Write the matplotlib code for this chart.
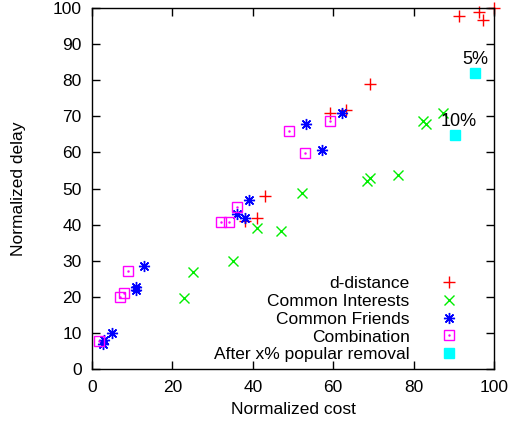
import matplotlib
matplotlib.use("Agg")
import matplotlib.pyplot as plt
from matplotlib.legend_handler import HandlerTuple

plt.rcParams["font.family"] = ["Liberation Sans", "DejaVu Sans"]
plt.rcParams["font.size"] = 12.5

# d-distance
dd_cost = [38.1, 41.0, 43.1, 59.1, 63.2, 69.2, 91.2, 96.3, 97.3, 100.0]
dd_delay = [41.0, 41.8, 47.9, 70.8, 71.7, 78.9, 97.8, 98.9, 96.7, 100.0]

# Common Interests
ci_cost = [22.9, 25.0, 35.0, 41.1, 47.1, 52.2, 68.3, 69.2, 76.2, 82.3, 83.2, 87.2]
ci_delay = [19.8, 26.8, 29.8, 39.1, 38.3, 48.8, 52.2, 52.8, 53.8, 68.8, 68.0, 70.8]

# Common Friends
cf_cost = [2.7, 2.9, 4.9, 10.9, 10.9, 13.0, 36.0, 38.1, 39.1, 53.2, 57.1, 62.1]
cf_delay = [7.0, 8.0, 9.9, 22.8, 21.9, 28.4, 42.9, 41.8, 46.8, 68.0, 60.8, 70.8]

# Combination
cb_cost = [1.8, 7.0, 8.0, 9.0, 32.1, 34.1, 36.1, 49.1, 53.1, 59.2]
cb_delay = [7.8, 20.0, 21.0, 27.2, 40.8, 40.8, 44.8, 66.0, 59.7, 68.8]

# After x% popular removal
pr_cost = [95.3, 90.3]
pr_delay = [81.9, 64.8]
pr_labels = ["5%", "10%"]
pr_label_pos = [(95.3, 85.8), (91.3, 68.6)]

fig = plt.figure(figsize=(5.24, 4.26), dpi=100)
ax = fig.add_axes([0.1756, 0.1338, 0.7671, 0.8474])

h1, = ax.plot(dd_cost, dd_delay, ls="none", marker="+", ms=8, mew=1.0,
              color="#ff0000", clip_on=False)
h2, = ax.plot(ci_cost, ci_delay, ls="none", marker="x", ms=7, mew=1.0,
              color="#00ee00", clip_on=False)
h3, = ax.plot(cf_cost, cf_delay, ls="none", marker=(8, 2, 0), ms=8, mew=1.0,
              color="#0000ff", clip_on=False)
h4a, = ax.plot(cb_cost, cb_delay, ls="none", marker="s", ms=7, mew=1.0,
               mfc="none", color="#ff00ff", clip_on=False)
h4b, = ax.plot(cb_cost, cb_delay, ls="none", marker=".", ms=1.5,
               color="#ff00ff", clip_on=False)
h5, = ax.plot(pr_cost, pr_delay, ls="none", marker="s", ms=7,
              color="#00ffff", clip_on=False)

for lab, (x, y) in zip(pr_labels, pr_label_pos):
    ax.text(x, y, lab, ha="center", va="center", fontsize=13)

ax.set_xlim(0, 100)
ax.set_ylim(0, 100)
ax.set_xticks(range(0, 101, 20))
ax.set_yticks(range(0, 101, 10))
ax.tick_params(direction="in", length=5.5, width=1.0, top=True, right=True,
               labelsize=12.5)
ax.tick_params(axis="x", pad=8)
ax.tick_params(axis="y", pad=7.5)
for sp in ax.spines.values():
    sp.set_linewidth(1.0)

ax.set_xlabel("Normalized cost", fontsize=12.5)
ax.set_ylabel("Normalized delay", fontsize=12.5)
ax.xaxis.set_label_coords(0.5, -0.092)
ax.yaxis.set_label_coords(-0.163, 0.5)

ax.legend([h1, h2, h3, (h4a, h4b), h5],
          ["d-distance", "Common Interests", "Common Friends", "Combination",
           "After x% popular removal"],
          handler_map={tuple: HandlerTuple(ndivide=1, pad=0)},
          loc="lower right", bbox_to_anchor=(0.967, -0.02), frameon=False,
          markerfirst=False, handlelength=2.0, handletextpad=1.3,
          labelspacing=0.15, borderpad=0.3, fontsize=12.5)

fig.savefig("out.png", dpi=100)
